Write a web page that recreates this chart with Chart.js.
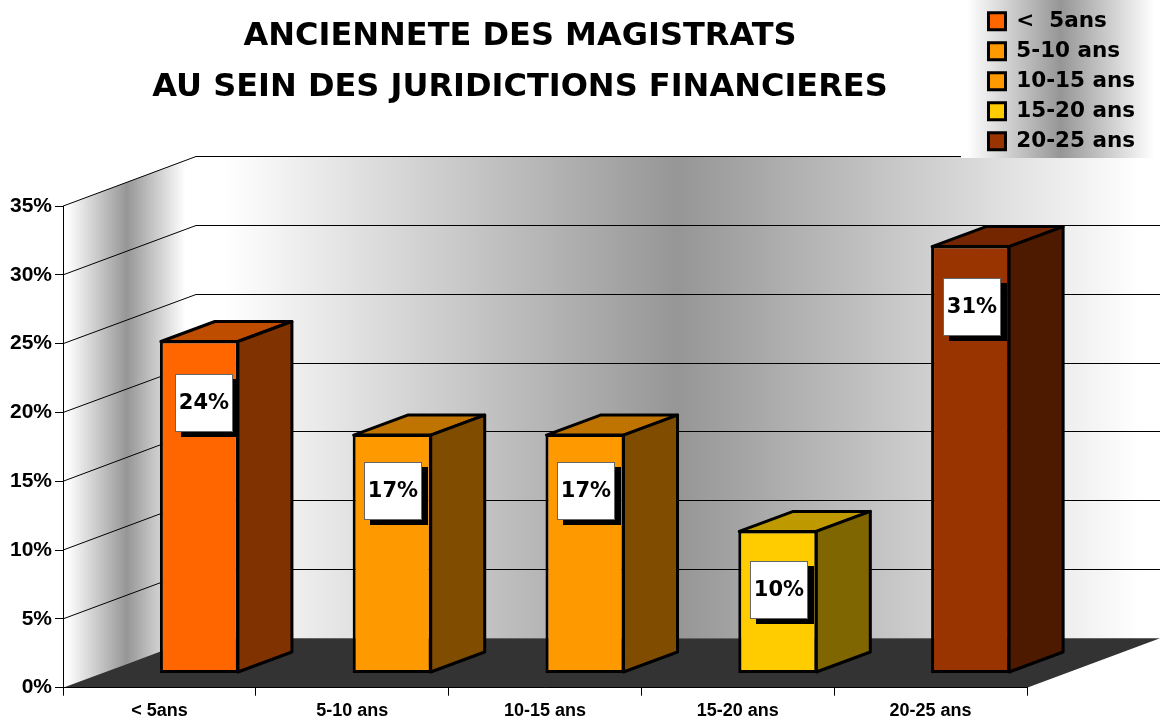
<!DOCTYPE html>
<html><head><meta charset="utf-8">
<style>html,body{margin:0;padding:0;background:#fff;overflow:hidden}#w{width:1160px;height:724px}canvas{display:block}</style>
<script src="https://cdn.jsdelivr.net/npm/chart.js@4"></script>
</head><body><div id="w"><canvas id="c" width="1160" height="724"></canvas></div>
<script>
const titleLines = ['ANCIENNETE DES MAGISTRATS', 'AU SEIN DES JURIDICTIONS FINANCIERES'];
const categories = ['< 5ans', '5-10 ans', '10-15 ans', '15-20 ans', '20-25 ans'];
const legendLabels = ['<  5ans', '5-10 ans', '10-15 ans', '15-20 ans', '20-25 ans'];
const shares = [24.2, 17.4, 17.4, 10.4, 31.1];
const yMax = 35;
const yStep = 5;

const frontColors = ['#FF6600', '#FF9900', '#FF9900', '#FFCC00', '#993300'];
const sideColors  = ['#803300', '#804D00', '#804D00', '#806600', '#4D1A00'];
const topColors   = ['#BF4D00', '#BF7300', '#BF7300', '#BF9900', '#732600'];
const labelNudgeX = [5, 1, 1, 1, 1];
const labelDrop   = [62.3, 57.2, 57.2, 59.3, 61.8];

const comic = '"DejaVu Sans", sans-serif';
const DEPTH = {x: 133, y: -49.5};
const BAR_SHIFT = {x: 40, y: -14.2};
const BAR_DEPTH = {x: 54, y: -20};

function poly(ctx, pts, fill, stroke, lw) {
  ctx.beginPath();
  pts.forEach((p, i) => i ? ctx.lineTo(p[0], p[1]) : ctx.moveTo(p[0], p[1]));
  ctx.closePath();
  if (fill) { ctx.fillStyle = fill; ctx.fill(); }
  if (stroke) { ctx.strokeStyle = stroke; ctx.lineWidth = lw; ctx.lineJoin = 'round'; ctx.stroke(); }
}
function hGrad(ctx, x0, x1, a, m, b) {
  const g = ctx.createLinearGradient(x0, 0, x1, 0);
  g.addColorStop(a, '#ffffff');
  g.addColorStop(m, '#969696');
  g.addColorStop(b, '#ffffff');
  return g;
}

const scene = {
  id: 'scene',
  afterLayout(chart) {
    const t = chart.titleBlock;
    t.left = 0; t.right = 1040;
    const l = chart.legend;
    const w = l.width, h = l.height;
    l.left = 980; l.right = 980 + w; l.top = 2; l.bottom = 2 + h;
  },
  beforeDraw(chart) {
    const ctx = chart.ctx, a = chart.chartArea, y = chart.scales.y;
    const L = a.left, R = a.right, T = a.top, B = a.bottom;
    ctx.save();
    ctx.fillStyle = '#fff';
    ctx.fillRect(0, 0, chart.width, chart.height);
    // side wall
    poly(ctx, [[L, T], [L + DEPTH.x, T + DEPTH.y], [L + DEPTH.x, B + DEPTH.y], [L, B]], hGrad(ctx, L, L + DEPTH.x, 0.03, 0.48, 0.92));
    // back wall
    ctx.fillStyle = hGrad(ctx, L + DEPTH.x, R + DEPTH.x, 0.03, 0.5, 0.98);
    ctx.fillRect(L + DEPTH.x, T + DEPTH.y, R - L, B - T);
    // grid
    ctx.strokeStyle = '#000'; ctx.lineWidth = 1;
    y.ticks.forEach(tk => {
      if (tk.value === 0) return;
      const py = y.getPixelForValue(tk.value);
      const back = Math.floor(py + DEPTH.y) + 0.5;
      ctx.beginPath();
      ctx.moveTo(L, py);
      ctx.lineTo(L + DEPTH.x, back);
      ctx.lineTo(R + DEPTH.x, back);
      ctx.stroke();
    });
    // floor
    poly(ctx, [[L, B], [R, B], [R + DEPTH.x, B + DEPTH.y], [L + DEPTH.x, B + DEPTH.y]], '#333333');
    // legend panel
    ctx.fillStyle = hGrad(ctx, 961, 1160, 0.03, 0.5, 0.97);
    ctx.fillRect(961, 0, 199, 158);
    ctx.restore();
  },
  beforeDatasetsDraw(chart) {
    const ctx = chart.ctx;
    ctx.save();
    ctx.translate(BAR_SHIFT.x, BAR_SHIFT.y);
    chart.getDatasetMeta(0).data.forEach((b, i) => {
      const hw = b.width / 2, l = b.x - hw + 1, r = b.x + hw - 1, t = b.y + 1, base = b.base - 1;
      poly(ctx, [[l, t], [l + BAR_DEPTH.x, t + BAR_DEPTH.y], [r + BAR_DEPTH.x, t + BAR_DEPTH.y], [r, t]], topColors[i], '#000', 3);
      poly(ctx, [[r, t], [r + BAR_DEPTH.x, t + BAR_DEPTH.y], [r + BAR_DEPTH.x, base + BAR_DEPTH.y], [r, base]], sideColors[i], '#000', 3);
    });
  },
  afterDatasetsDraw(chart) {
    const ctx = chart.ctx;
    ctx.restore();
    ctx.save();
    ctx.textAlign = 'center';
    ctx.textBaseline = 'middle';
    ctx.font = 'bold 21px ' + comic;
    chart.getDatasetMeta(0).data.forEach((b, i) => {
      const cx = b.x + BAR_SHIFT.x + labelNudgeX[i];
      const cy = b.y + BAR_SHIFT.y + labelDrop[i];
      const s = 58, x = Math.round(cx - s / 2), yy = Math.round(cy - s / 2);
      ctx.fillStyle = '#000';
      ctx.fillRect(x + 6, yy + 5, s, s);
      ctx.fillStyle = '#fff';
      ctx.fillRect(x, yy, s, s);
      ctx.strokeStyle = '#666'; ctx.lineWidth = 1;
      ctx.strokeRect(x + 0.5, yy + 0.5, s - 1, s - 1);
      ctx.fillStyle = '#000';
      ctx.fillText(Math.round(shares[i]) + '%', x + s / 2, yy + s / 2 + 1);
    });
    ctx.restore();
  }
};

new Chart(document.getElementById('c'), {
  type: 'bar',
  plugins: [scene],
  data: {
    labels: categories,
    datasets: [{
      data: shares,
      backgroundColor: frontColors,
      borderColor: '#000',
      borderWidth: 3,
      borderSkipped: false,
      barPercentage: 0.41,
      categoryPercentage: 1
    }]
  },
  options: {
    responsive: false,
    animation: false,
    events: [],
    layout: {padding: {left: 0, right: 133, top: 0, bottom: 0}},
    plugins: {
      tooltip: {enabled: false},
      title: {
        display: true,
        text: titleLines,
        color: '#000',
        font: {family: comic, size: 32, weight: 'bold', lineHeight: 1.6},
        padding: {top: 10.9, bottom: 92.8}
      },
      legend: {
        display: true,
        position: 'chartArea',
        align: 'start',
        labels: {
          boxWidth: 17, boxHeight: 17,
          padding: 8.5,
          color: '#000',
          font: {family: comic, size: 21.5, weight: 'bold'},
          generateLabels: () => legendLabels.map((t, i) => ({
            text: t, fillStyle: frontColors[i], strokeStyle: '#000', lineWidth: 3, hidden: false, index: i
          }))
        }
      }
    },
    scales: {
      x: {
        offset: true,
        grid: {display: true, drawOnChartArea: false, drawTicks: true, tickLength: 8, color: '#000', offset: true},
        border: {display: true, color: '#000', width: 1},
        ticks: {color: '#000', padding: 5, maxRotation: 0, autoSkip: false,
                font: {family: '"Liberation Sans"', size: 18, weight: 'bold'}},
        afterFit(s) { s.height = 36.3; }
      },
      y: {
        min: 0, max: yMax,
        grid: {display: true, drawOnChartArea: false, drawTicks: true, tickLength: 8, color: '#000'},
        border: {display: true, color: '#000', width: 1},
        ticks: {stepSize: yStep, color: '#000', padding: 3,
                font: {family: '"Liberation Sans"', size: 21, weight: 'bold'},
                callback: v => v + '%'},
        afterFit(s) { s.width = 63; }
      }
    }
  }
});
</script></body></html>
